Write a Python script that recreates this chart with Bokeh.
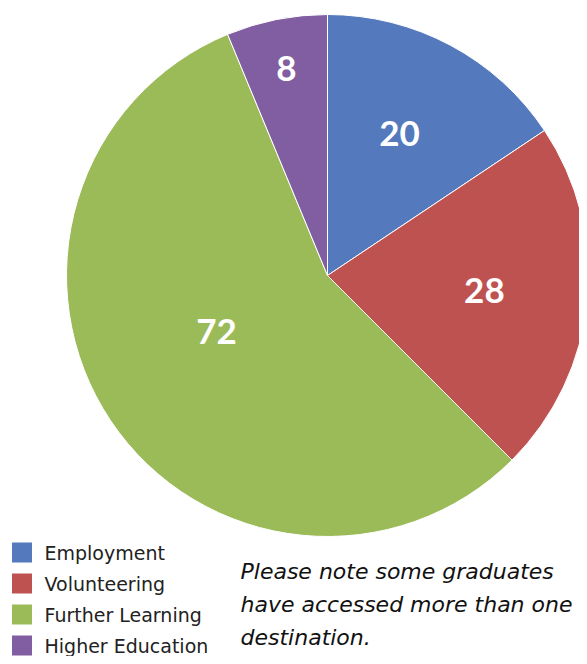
import math
from bokeh.plotting import figure
from bokeh.models import ColumnDataSource, Range1d
from bokeh.core.properties import value
from bokeh.embed import file_html
from bokeh.resources import INLINE

categories = ["Employment", "Volunteering", "Further Learning", "Higher Education"]
counts = [20, 28, 72, 8]
colors = ["#5479BC", "#BE5250", "#9BBB59", "#815EA1"]
note_lines = ["Please note some graduates", "have accessed more than one", "destination."]

# style / layout
W, H = 579, 656
cx, cy, R = 327, H - 275, 261
label_r = [0.61, 0.604, 0.476, 0.808]
label_da = [1.2, 0.0, -7.0, 0.0]
NUMFONT = "Lato"
FONT = "DejaVu Sans"

p = figure(width=W, height=H, output_backend="svg", toolbar_location=None,
           x_range=Range1d(0, W), y_range=Range1d(0, H), min_border=0,
           outline_line_color=None)
p.axis.visible = False
p.grid.visible = False
p.background_fill_color = "white"
p.border_fill_color = "white"

total = sum(counts)
starts, ends, lx, ly = [], [], [], []
a = math.pi / 2
for i, c in enumerate(counts):
    span = 2 * math.pi * c / total
    e = a
    s = a - span
    starts.append(s)
    ends.append(e)
    mid = (s + e) / 2 + math.radians(label_da[i])
    lx.append(cx + R * label_r[i] * math.cos(mid))
    ly.append(cy + R * label_r[i] * math.sin(mid))
    a = s

src = ColumnDataSource(dict(start=starts, end=ends, color=colors, lx=lx, ly=ly,
                            lab=[str(c) for c in counts]))
p.wedge(x=cx, y=cy, radius=R, start_angle="start", end_angle="end",
        fill_color="color", line_color="white", line_width=1, source=src)
p.text(x="lx", y="ly", text="lab", source=src, text_color="white",
       text_font=value(NUMFONT), text_font_style="bold", text_font_size="35px",
       text_align="center", text_baseline="middle")

# legend
ly0, dy = H - 552, 31
leg = ColumnDataSource(dict(
    y=[ly0 - i * dy for i in range(len(categories))],
    name=categories, color=colors))
p.rect(x=21.5, y="y", width=20, height=20, fill_color="color", line_color=None, source=leg)
p.text(x=44, y="y", text="name", source=leg, text_color="#222222",
       text_font=value(FONT), text_font_size="19px",
       text_align="left", text_baseline="middle")

# note
nsrc = ColumnDataSource(dict(y=[H - 571 - i * 33 for i in range(len(note_lines))], t=note_lines))
p.text(x=240, y="y", text="t", source=nsrc, text_color="#111111",
       text_font=value(FONT), text_font_style="italic", text_font_size="22px",
       text_align="left", text_baseline="middle")

open("out.html", "w").write(file_html(p, INLINE))
